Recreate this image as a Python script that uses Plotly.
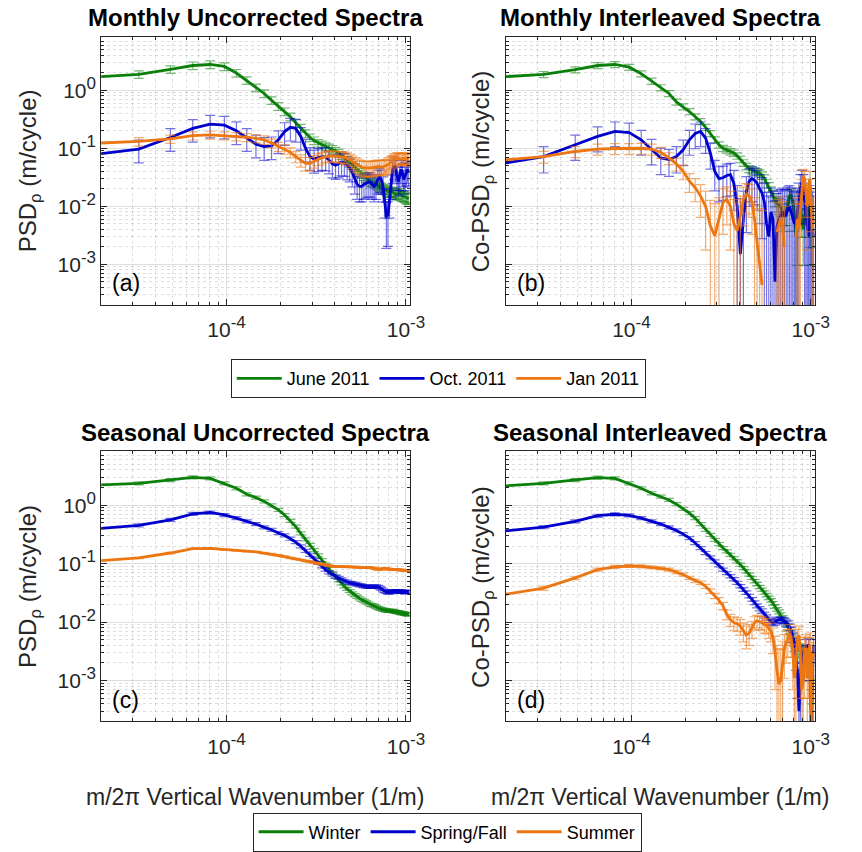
import math
import plotly.graph_objects as go

# ---------------- data ----------------
DK = 1.62e-5  # wavenumber spacing (1/m)
N_POINTS = 64
wavenumber = [DK * n for n in range(1, N_POINTS + 1)]

# (a) Monthly uncorrected
a_june = [1.65, 1.88, 2.29, 2.67, 2.78, 2.57, 1.98, 1.48, 1.11, 0.88,
          0.67, 0.53, 0.43, 0.35, 0.276, 0.224, 0.18, 0.153, 0.136, 0.123,
          0.115, 0.108, 0.102, 0.097, 0.09, 0.083, 0.076, 0.069, 0.062, 0.056,
          0.051, 0.047, 0.043, 0.039, 0.036, 0.033, 0.031, 0.029, 0.027, 0.026,
          0.025, 0.024, 0.023, 0.022, 0.021, 0.020, 0.0195, 0.019, 0.018, 0.0175,
          0.018, 0.0176, 0.017, 0.016, 0.0165, 0.016, 0.017, 0.0155, 0.015, 0.015,
          0.0145, 0.014, 0.0138, 0.0135]
a_oct = [0.075, 0.097, 0.153, 0.22, 0.26, 0.25, 0.20, 0.153, 0.118, 0.107,
         0.11, 0.14, 0.194, 0.23, 0.22, 0.16, 0.10, 0.072, 0.065, 0.069,
         0.072, 0.071, 0.063, 0.054, 0.051, 0.054, 0.058, 0.057, 0.050, 0.046,
         0.038, 0.029, 0.024, 0.022, 0.022, 0.024, 0.025, 0.026, 0.026, 0.024,
         0.022, 0.024, 0.029, 0.031, 0.029, 0.022, 0.013, 0.0068, 0.007, 0.013,
         0.024, 0.043, 0.050, 0.046, 0.033, 0.027, 0.033, 0.043, 0.038, 0.029,
         0.033, 0.040, 0.043, 0.038]
a_jan = [0.12, 0.131, 0.145, 0.165, 0.17, 0.165, 0.16, 0.155, 0.148, 0.14,
         0.123, 0.107, 0.097, 0.085, 0.072, 0.062, 0.055, 0.055, 0.06, 0.065,
         0.069, 0.072, 0.074, 0.074, 0.073, 0.072, 0.071, 0.070, 0.067, 0.063,
         0.059, 0.055, 0.052, 0.049, 0.047, 0.046, 0.046, 0.045, 0.046, 0.046,
         0.047, 0.048, 0.048, 0.048, 0.047, 0.048, 0.049, 0.05, 0.052, 0.055,
         0.058, 0.060, 0.062, 0.066, 0.068, 0.068, 0.066, 0.065, 0.066, 0.068,
         0.068, 0.066, 0.065, 0.064]

# (b) Monthly interleaved (None = negative co-spectrum, not drawn on log axis)
b_june = [1.65, 1.88, 2.26, 2.67, 2.78, 2.5, 1.93, 1.44, 1.11, 0.88,
          0.63, 0.52, 0.43, 0.35, 0.29, 0.23, 0.18, 0.14, 0.115, 0.10,
          0.094, 0.088, 0.083, 0.074, 0.065, 0.056, 0.049, 0.044, 0.042, 0.040,
          0.039, 0.037, 0.034, 0.030, 0.025, 0.0217, 0.018, 0.0154, 0.0132, 0.0112,
          0.0104, 0.0098, 0.0078, 0.0068, 0.0078, 0.0116, 0.015, 0.016, 0.0116, 0.0068,
          0.0031, 0.004, 0.008, 0.01, 0.006, 0.004, 0.006, 0.010, 0.012, 0.008,
          0.005, 0.004, 0.006, 0.005]
b_oct = [0.05, 0.072, 0.115, 0.16, 0.195, 0.186, 0.14, 0.097, 0.068, 0.064,
         0.072, 0.094, 0.14, 0.18, 0.195, 0.15, 0.083, 0.04, 0.030, 0.031,
         0.034, 0.035, 0.025, 0.010, 0.0015, 0.006, 0.018, 0.027, 0.03, 0.028,
         0.025, 0.02, 0.017, 0.012, 0.005, 0.003, 0.008, 0.006, 0.0005, 0.0045,
         0.006, 0.007, 0.008, 0.007, 0.007, 0.009, 0.010, 0.008, 0.006, 0.005,
         0.006, 0.008, 0.012, 0.02, 0.025, 0.02, 0.012, 0.008, 0.005, 0.003,
         0.006, 0.01, 0.005, 0.003]
b_jan = [0.06, 0.072, 0.088, 0.097, 0.099, 0.099, 0.10, 0.097, 0.085, 0.068,
         0.054, 0.04, 0.027, 0.021, 0.015, 0.010, 0.0046, 0.0031, 0.006, 0.0116,
         0.0132, 0.010, 0.005, 0.0038, 0.0068, 0.013, 0.016, 0.015, 0.0116, 0.006,
         0.0024, 0.0011, 0.00044, None, None, None, None, None, None, 0.0036,
         0.005, 0.0064, 0.004, 0.002, None, None, None, None, None, None,
         0.003, 0.006, 0.004, 0.008, 0.02, 0.033, 0.03, 0.015, 0.01, 0.02,
         0.03, 0.012, 0.004, 0.006]

# (c) Seasonal uncorrected
c_winter = [2.16, 2.37, 2.7, 3.0, 2.88, 2.37, 1.95, 1.54, 1.35, 1.16,
            0.99, 0.83, 0.68, 0.54, 0.43, 0.33, 0.26, 0.21, 0.171, 0.139,
            0.115, 0.096, 0.081, 0.069, 0.06, 0.052, 0.046, 0.041, 0.037, 0.034,
            0.031, 0.029, 0.027, 0.0255, 0.024, 0.023, 0.022, 0.021, 0.02, 0.0195,
            0.019, 0.0182, 0.0175, 0.017, 0.0167, 0.0163, 0.016, 0.0158, 0.0157, 0.0156,
            0.0155, 0.0155, 0.0152, 0.015, 0.0149, 0.0148, 0.0145, 0.0143, 0.0142, 0.014,
            0.0138, 0.0137, 0.0136, 0.0135]
c_springfall = [0.38, 0.45, 0.56, 0.71, 0.75, 0.68, 0.6, 0.53, 0.475, 0.417,
                0.38, 0.334, 0.305, 0.267, 0.234, 0.198, 0.166, 0.142, 0.117, 0.103,
                0.09, 0.079, 0.071, 0.065, 0.06, 0.057, 0.054, 0.051, 0.049, 0.047,
                0.046, 0.045, 0.044, 0.043, 0.042, 0.041, 0.041, 0.04, 0.04, 0.04,
                0.041, 0.041, 0.040, 0.039, 0.037, 0.035, 0.034, 0.033, 0.032, 0.032,
                0.033, 0.034, 0.034, 0.034, 0.033, 0.034, 0.034, 0.033, 0.033, 0.033,
                0.032, 0.033, 0.033, 0.033]
c_summer = [0.108, 0.125, 0.152, 0.18, 0.183, 0.173, 0.167, 0.163, 0.159, 0.152,
            0.146, 0.139, 0.132, 0.125, 0.12, 0.116, 0.111, 0.107, 0.103, 0.099,
            0.097, 0.095, 0.092, 0.09, 0.089, 0.089, 0.089, 0.089, 0.088, 0.088,
            0.088, 0.087, 0.087, 0.087, 0.086, 0.086, 0.086, 0.085, 0.085, 0.085,
            0.083, 0.081, 0.079, 0.079, 0.081, 0.083, 0.083, 0.083, 0.081, 0.079,
            0.079, 0.079, 0.080, 0.080, 0.079, 0.079, 0.078, 0.078, 0.077, 0.077,
            0.077, 0.076, 0.076, 0.076]

# (d) Seasonal interleaved
d_winter = [2.05, 2.37, 2.7, 2.96, 2.88, 2.37, 1.95, 1.6, 1.4, 1.23,
            1.04, 0.87, 0.73, 0.6, 0.475, 0.38, 0.31, 0.256, 0.217, 0.185,
            0.162, 0.142, 0.124, 0.109, 0.096, 0.084, 0.074, 0.065, 0.057, 0.05,
            0.045, 0.04, 0.036, 0.032, 0.029, 0.026, 0.0235, 0.021, 0.0185, 0.0165,
            0.015, 0.0133, 0.0118, 0.0105, 0.0093, 0.0082, 0.0072, 0.0062, 0.0054, 0.0047,
            0.0041, 0.0036, 0.0034, 0.0032, 0.003, 0.0029, 0.0027, 0.0025, 0.0022, 0.002,
            0.0018, 0.0015, 0.0012, 0.001]
d_springfall = [0.344, 0.42, 0.53, 0.66, 0.70, 0.67, 0.6, 0.53, 0.475, 0.417,
                0.37, 0.32, 0.274, 0.225, 0.185, 0.152, 0.128, 0.109, 0.094, 0.079,
                0.069, 0.061, 0.054, 0.047, 0.041, 0.036, 0.032, 0.028, 0.0245, 0.0215,
                0.019, 0.017, 0.0154, 0.0135, 0.012, 0.011, 0.0102, 0.0098, 0.0100, 0.0105,
                0.011, 0.011, 0.0108, 0.0105, 0.0098, 0.0093, 0.0082, 0.0071, 0.0055, 0.0042,
                0.0025, 0.0015, 0.0003, 0.001, 0.003, 0.003, 0.002, 0.004, 0.003, 0.0042,
                0.002, 0.0002, 0.001, 0.004]
d_summer = [0.027, 0.038, 0.057, 0.079, 0.088, 0.091, 0.09, 0.087, 0.083, 0.079,
            0.072, 0.065, 0.057, 0.051, 0.047, 0.041, 0.034, 0.028, 0.0235, 0.019,
            0.0135, 0.011, 0.0098, 0.0094, 0.0085, 0.0071, 0.006, 0.0065, 0.0078, 0.0098,
            0.0105, 0.010, 0.0098, 0.009, 0.0088, 0.0078, 0.0071, 0.0054, 0.0032, 0.0015,
            0.00087, 0.001, 0.0022, 0.0036, 0.0045, 0.005, 0.0065, 0.005, 0.0032, 0.0011,
            0.0017, 0.005, 0.006, 0.003, 0.0007, 0.001, 0.003, 0.0036, 0.0011, 0.003,
            0.004, 0.0002, 0.002, 0.003]

# error model per series: (relative error, absolute floor)
err_a = {"june": (0.15, 0.002), "oct": (0.42, 0.004), "jan": (0.14, 0.012)}
err_b = {"june": (0.12, 0.003), "oct": (0.45, 0.012), "jan": (0.2, 0.008)}
err_c = {"june": (0.06, 0.0), "oct": (0.06, 0.0), "jan": (0.025, 0.0)}
err_d = {"june": (0.06, 0.0008), "oct": (0.06, 0.001), "jan": (0.05, 0.0025)}

monthly_names = ["June 2011", "Oct. 2011", "Jan 2011"]
seasonal_names = ["Winter", "Spring/Fall", "Summer"]
panel_titles = ["Monthly Uncorrected Spectra", "Monthly Interleaved Spectra",
                "Seasonal Uncorrected Spectra", "Seasonal Interleaved Spectra"]
panel_labels = ["(a)", "(b)", "(c)", "(d)"]
ylabels = ["PSD<sub>ρ</sub> (m/cycle)", "Co-PSD<sub>ρ</sub> (m/cycle)"]
xlabel = "m/2π Vertical Wavenumber (1/m)"
x_tickvals = [1e-4, 1e-3]
x_exponents = ["-4", "-3"]
y_tickvals = [1e-3, 1e-2, 1e-1, 1e0]
y_exponents = ["-3", "-2", "-1", "0"]

# ---------------- style ----------------
W, H = 862, 852
COLORS = ["#0A800A", "#0000CC", "#EC7612"]
ERRCOLORS = ["rgba(10,128,10,0.55)", "rgba(0,0,204,0.55)", "rgba(236,118,18,0.6)"]
FONT = "Liberation Sans, Arial, sans-serif"
XRANGE = [math.log10(2.0e-5), math.log10(1.05e-3)]
YRANGE = [-3.7, 0.92]

# panel pixel boxes (left, right, top, bottom)
boxes = [(103, 417, 37, 306), (515, 829, 37, 306),
         (103, 417, 453, 724), (515, 829, 453, 724)]


def px_x(x):
    return x / W


def px_y(y):
    return 1 - y / H


def power_label(e):
    return f"10<sup><span style='font-size:17px'>{e}</span></sup>"


def errors(vals, rel, floor):
    plus, minus = [], []
    for v in vals:
        if v is None:
            plus.append(0)
            minus.append(0)
            continue
        e = math.sqrt((rel * v) ** 2 + floor ** 2)
        plus.append(e)
        minus.append(min(e, v - 1e-6))
    return plus, minus


fig = go.Figure()

panels = [
    ([a_june, a_oct, a_jan], err_a, monthly_names, "legend"),
    ([b_june, b_oct, b_jan], err_b, monthly_names, None),
    ([c_winter, c_springfall, c_summer], err_c, seasonal_names, "legend2"),
    ([d_winter, d_springfall, d_summer], err_d, seasonal_names, None),
]
keys = ["june", "oct", "jan"]

for i, (series, errs, names, leg) in enumerate(panels):
    xa = "x" if i == 0 else f"x{i+1}"
    ya = "y" if i == 0 else f"y{i+1}"
    for j, vals in enumerate(series):
        rel, floor = errs[keys[j]]
        plus, minus = errors(vals, rel, floor)
        fig.add_trace(go.Scatter(
            x=wavenumber, y=vals, mode="lines", name=names[j],
            xaxis=xa, yaxis=ya,
            line=dict(color=COLORS[j], width=2.8),
            error_y=dict(type="data", symmetric=False, array=plus, arrayminus=minus,
                         color=ERRCOLORS[j], thickness=1.2, width=5),
            showlegend=leg is not None,
            legend=leg if leg is not None else "legend",
            connectgaps=False,
        ))

minor_vals = [m * 10 ** e for e in range(-6, 2) for m in range(2, 10)]
grid_major = "rgba(0,0,0,0.13)"
grid_minor = "rgba(0,0,0,0.13)"
axis_col = "#262626"

layout = dict(
    width=W, height=H, margin=dict(l=0, r=0, t=0, b=0),
    paper_bgcolor="white", plot_bgcolor="white",
    font=dict(family=FONT, color="#262626"),
)

for i, (l, r, t, b) in enumerate(boxes):
    xk = "xaxis" if i == 0 else f"xaxis{i+1}"
    yk = "yaxis" if i == 0 else f"yaxis{i+1}"
    xa = "x" if i == 0 else f"x{i+1}"
    ya = "y" if i == 0 else f"y{i+1}"
    layout[xk] = dict(
        domain=[px_x(l), px_x(r)], anchor=ya, type="log", range=XRANGE,
        tickmode="array", tickvals=x_tickvals,
        ticktext=[power_label(e) for e in x_exponents],
        ticks="inside", ticklen=6, tickcolor=axis_col, mirror="allticks",
        ticklabelstandoff=6,
        showline=True, linecolor=axis_col, linewidth=1,
        showgrid=True, gridcolor=grid_major, gridwidth=1,
        tickfont=dict(size=21, family=FONT, color="#262626"),
        minor=dict(tickmode="array", tickvals=minor_vals, ticks="inside", ticklen=3,
                   tickcolor=axis_col, showgrid=True, gridcolor=grid_minor, griddash="dot"),
        zeroline=False,
    )
    layout[yk] = dict(
        domain=[px_y(b), px_y(t)], anchor=xa, type="log", range=YRANGE,
        tickmode="array", tickvals=y_tickvals,
        ticktext=[power_label(e) for e in y_exponents],
        showticklabels=(i % 2 == 0),
        ticks="inside", ticklen=6, tickcolor=axis_col, mirror="allticks",
        showline=True, linecolor=axis_col, linewidth=1,
        showgrid=True, gridcolor=grid_major, gridwidth=1,
        tickfont=dict(size=21, family=FONT, color="#262626"),
        minor=dict(tickmode="array", tickvals=minor_vals, ticks="inside", ticklen=3,
                   tickcolor=axis_col, showgrid=True, gridcolor=grid_minor, griddash="dot"),
        zeroline=False,
    )

annotations = []
for i, (l, r, t, b) in enumerate(boxes):
    cx = (l + r) / 2
    annotations.append(dict(text=f"<b>{panel_titles[i]}</b>", x=px_x(cx), y=px_y(t - 19),
                            xref="paper", yref="paper", showarrow=False,
                            xanchor="center", yanchor="middle",
                            font=dict(size=24, family=FONT, color="black")))
    annotations.append(dict(text=panel_labels[i], x=px_x(l + 25), y=px_y(b - 22),
                            xref="paper", yref="paper", showarrow=False,
                            xanchor="center", yanchor="middle",
                            font=dict(size=23, family=FONT, color="black")))
    lab_off = 73 if i % 2 == 0 else 24
    annotations.append(dict(text=ylabels[i % 2], x=px_x(l - lab_off), y=px_y((t + b) / 2),
                            xref="paper", yref="paper", showarrow=False, textangle=-90,
                            xanchor="center", yanchor="middle",
                            font=dict(size=24, family=FONT, color="#262626")))
    if i >= 2:
        annotations.append(dict(text=xlabel, x=px_x(cx), y=px_y(b + 76),
                                xref="paper", yref="paper", showarrow=False,
                                xanchor="center", yanchor="middle",
                                font=dict(size=23, family=FONT, color="#262626")))

layout["annotations"] = annotations
legend_common = dict(orientation="h", xanchor="center", yanchor="middle",
                     bordercolor=axis_col, borderwidth=1, bgcolor="white",
                     font=dict(size=18, family=FONT, color="black"),
                     itemwidth=45, tracegroupgap=0)
layout["legend"] = dict(legend_common, x=px_x(446), y=px_y(380))
layout["legend2"] = dict(legend_common, x=px_x(455), y=px_y(835))

fig.update_layout(**layout)
fig.write_html("out.html")
